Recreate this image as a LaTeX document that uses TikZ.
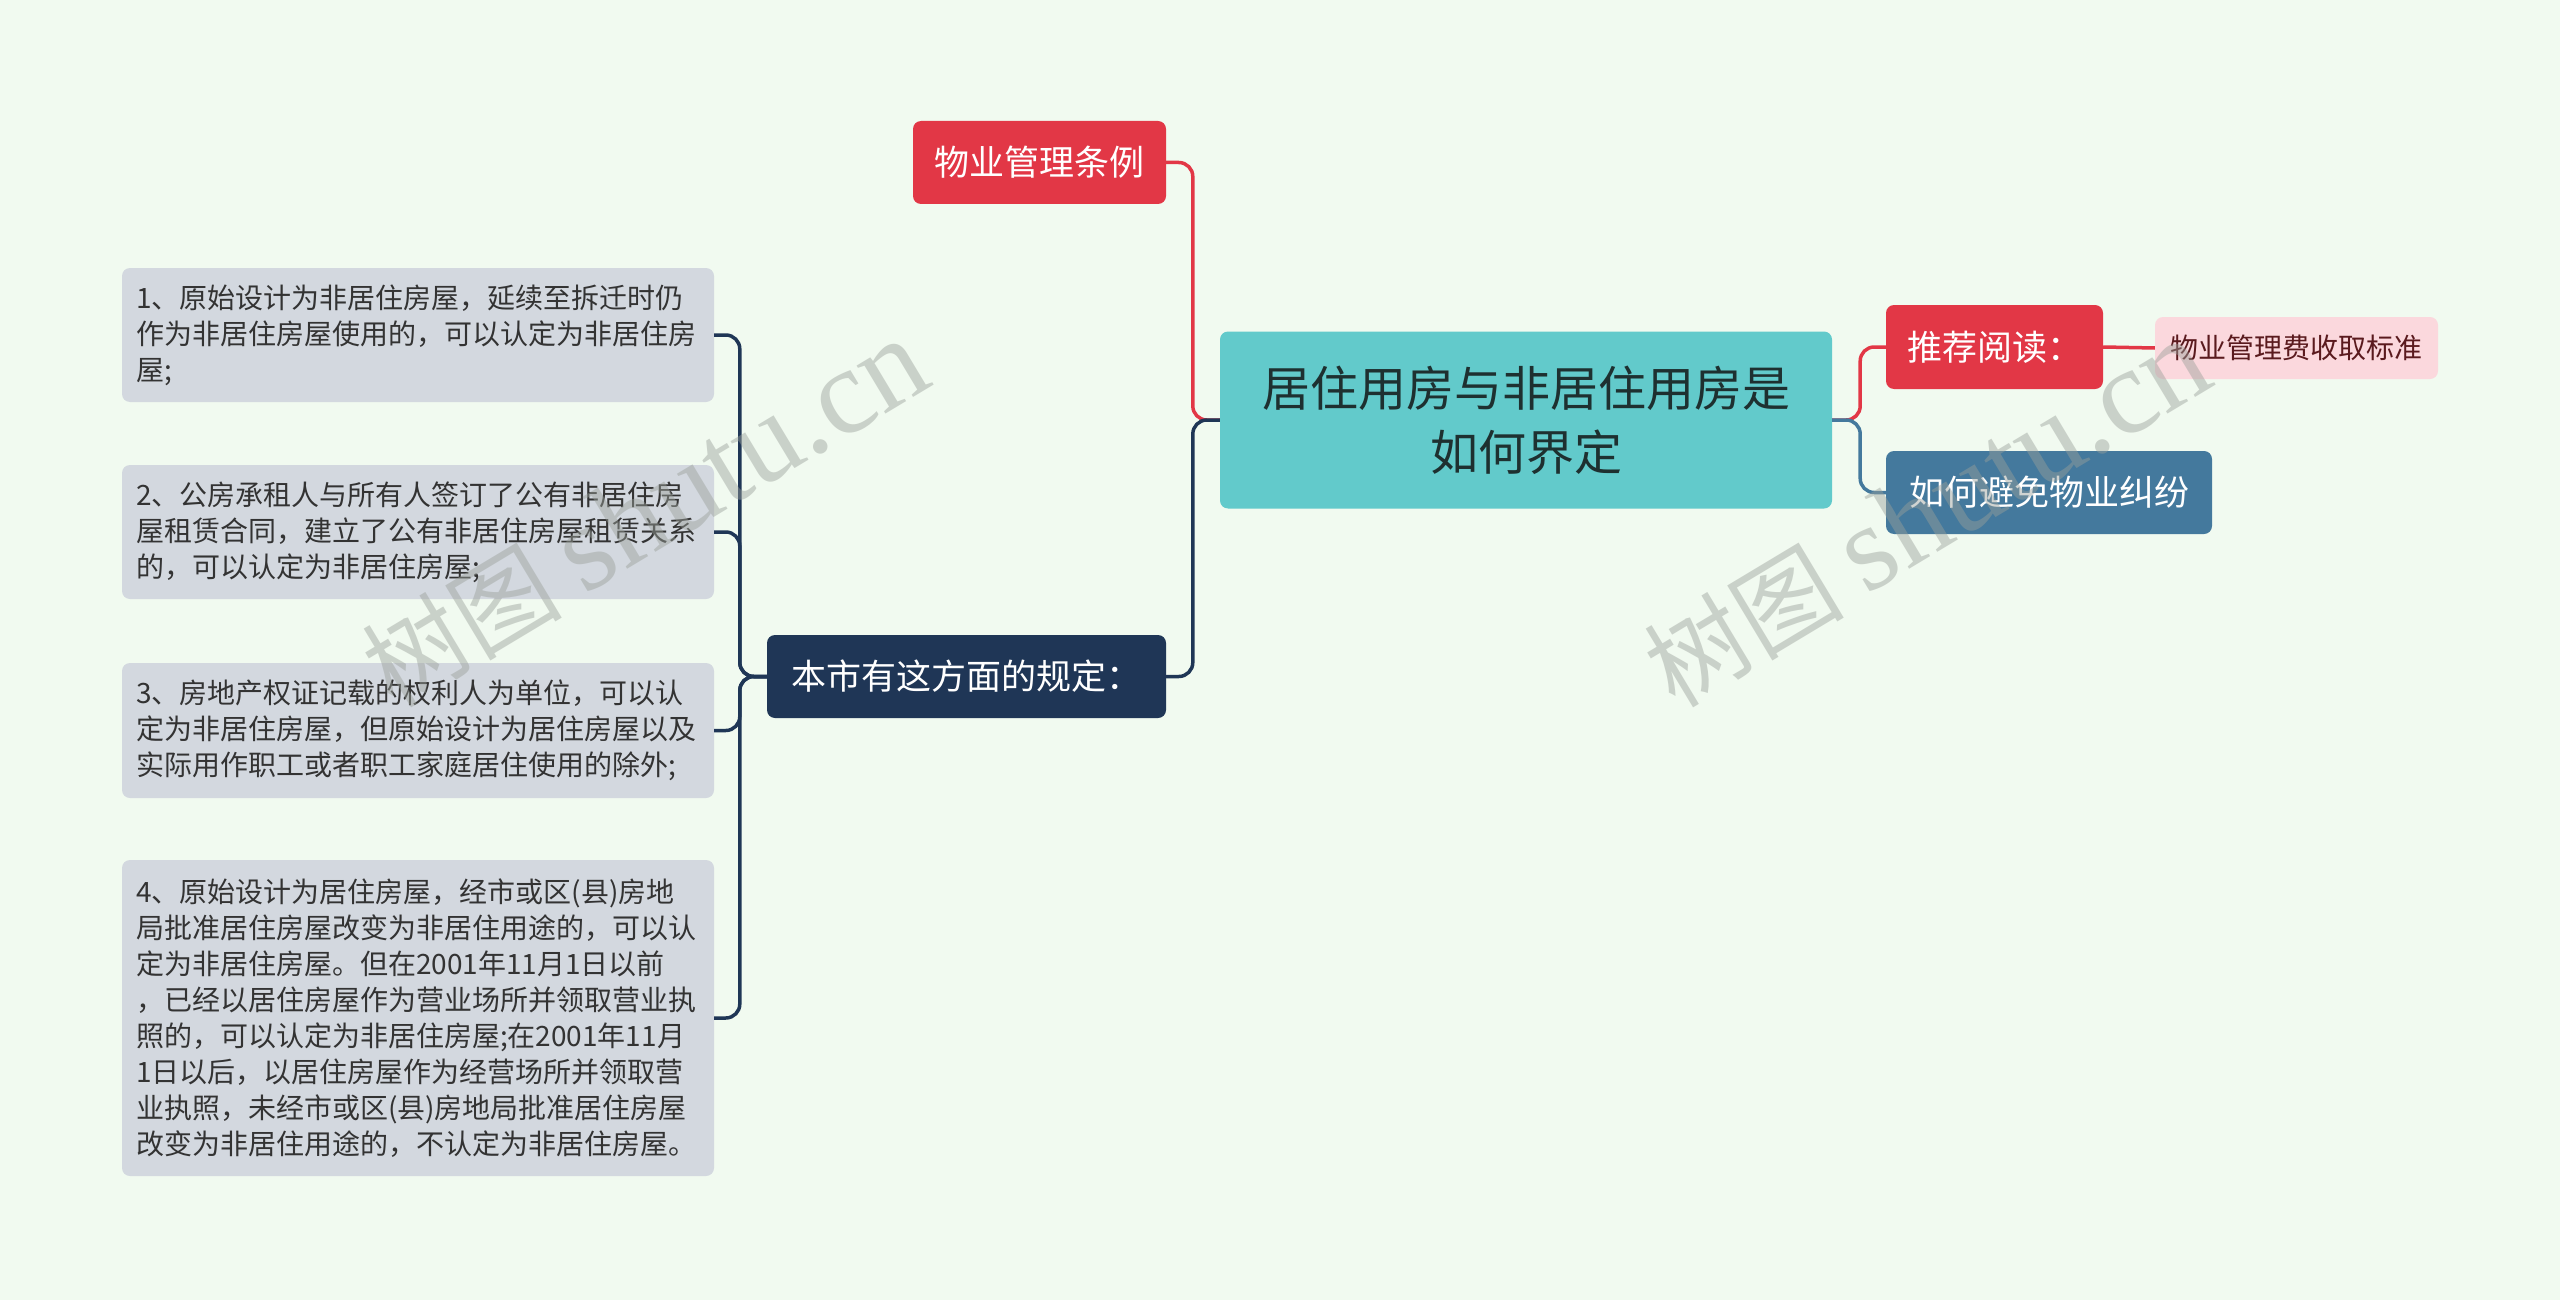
\documentclass[tikz,border=0pt]{standalone}
\usepackage{fontspec}
\setmainfont{Noto Sans CJK SC}
\newfontfamily\wmlatin{Liberation Serif}
\definecolor{bg}{HTML}{F1FAF0}
\definecolor{leafc}{HTML}{D3D8DF}
\definecolor{leaftext}{HTML}{333333}
\definecolor{navyc}{HTML}{1F3656}
\definecolor{redc}{HTML}{E23746}
\definecolor{tealc}{HTML}{62CACB}
\definecolor{steelc}{HTML}{44799D}
\definecolor{pinkc}{HTML}{FBD8DD}
\definecolor{pinktext}{HTML}{5A1A1E}
\definecolor{roottext}{HTML}{1E3030}
\definecolor{wmc}{HTML}{9AA09A}
\begin{document}
\begin{tikzpicture}[x=1pt,y=-1pt,
  basebox/.style={rounded corners=8pt, inner sep=0pt, align=center},
  rootbox/.style={basebox, fill=tealc, text=roottext, font=\fontsize{48}{64}\selectfont},
  midbox/.style={basebox, text=white, font=\fontsize{35}{42}\selectfont},
  leafbox/.style={rounded corners=8pt, fill=leafc, text=leaftext, font=\fontsize{28}{36}\selectfont, text width=564pt, align=left, inner xsep=14pt, inner ysep=0pt, minimum width=592pt},
  pinkbox/.style={basebox, fill=pinkc, text=pinktext, font=\fontsize{28}{34}\selectfont},
  conn/.style={line width=3.5pt, rounded corners=14pt},
  wm/.style={text=wmc, opacity=0.45, rotate=31, font=\fontsize{100}{100}\selectfont}
]
\fill[bg] (0,0) rectangle (2560,1300);
\useasboundingbox (0,0) rectangle (2560,1300);

% nodes
\node[rootbox, minimum width=612pt, minimum height=177pt] (root) at (1526,420) {居住用房与非居住用房是\\如何界定};
\node[midbox, fill=redc, minimum width=253pt, minimum height=83pt] (wuye) at (1039.5,162.5) {物业管理条例};
\node[midbox, fill=navyc, minimum width=399pt, minimum height=83pt] (ben) at (966.5,676.5) {本市有这方面的规定：};
\node[midbox, fill=redc, minimum width=217pt, minimum height=84pt] (tuijian) at (1994.5,347) {推荐阅读：};
\node[midbox, fill=steelc, minimum width=326pt, minimum height=83pt] (ruhe) at (2049,492.5) {如何避免物业纠纷};
\node[pinkbox, minimum width=283pt, minimum height=62pt] (biaozhun) at (2296.5,348) {物业管理费收取标准};

\node[leafbox, minimum height=134pt] (l1) at (418,335) {1、原始设计为非居住房屋，延续至拆迁时仍\\作为非居住房屋使用的，可以认定为非居住房\\屋;};
\node[leafbox, minimum height=134pt] (l2) at (418,532) {2、公房承租人与所有人签订了公有非居住房\\屋租赁合同，建立了公有非居住房屋租赁关系\\的，可以认定为非居住房屋;};
\node[leafbox, minimum height=135pt] (l3) at (418,730.5) {3、房地产权证记载的权利人为单位，可以认\\定为非居住房屋，但原始设计为居住房屋以及\\实际用作职工或者职工家庭居住使用的除外;};
\node[leafbox, minimum height=316pt] (l4) at (418,1018) {4、原始设计为居住房屋，经市或区(县)房地\\局批准居住房屋改变为非居住用途的，可以认\\定为非居住房屋。但在2001年11月1日以前\\，已经以居住房屋作为营业场所并领取营业执\\照的，可以认定为非居住房屋;在2001年11月\\1日以后，以居住房屋作为经营场所并领取营\\业执照，未经市或区(县)房地局批准居住房屋\\改变为非居住用途的，不认定为非居住房屋。};

% connectors
\coordinate (lj) at ([xshift=-27pt]root.west);
\coordinate (rj) at ([xshift=28pt]root.east);
\coordinate (bj) at ([xshift=-27pt]ben.west);
\draw[conn, redc] (root.west) -- (lj) |- (wuye.east);
\draw[conn, navyc] (root.west) -- (lj) |- (ben.east);
\draw[conn, redc] (root.east) -- (rj) |- (tuijian.west);
\draw[conn, steelc] (root.east) -- (rj) |- (ruhe.west);
\draw[conn, redc] (tuijian.east) -- (biaozhun.west);
\foreach \n in {l1,l2,l3,l4}{
  \draw[conn, navyc] (ben.west) -- (bj) |- (\n.east);
}

% watermarks
\node[wm] (wm1) at (645,514) {树图 {\wmlatin\fontsize{122}{122}\selectfont shutu.cn}};
\node[wm] (wm2) at (1927,514) {树图 {\wmlatin\fontsize{122}{122}\selectfont shutu.cn}};
\end{tikzpicture}
\end{document}
